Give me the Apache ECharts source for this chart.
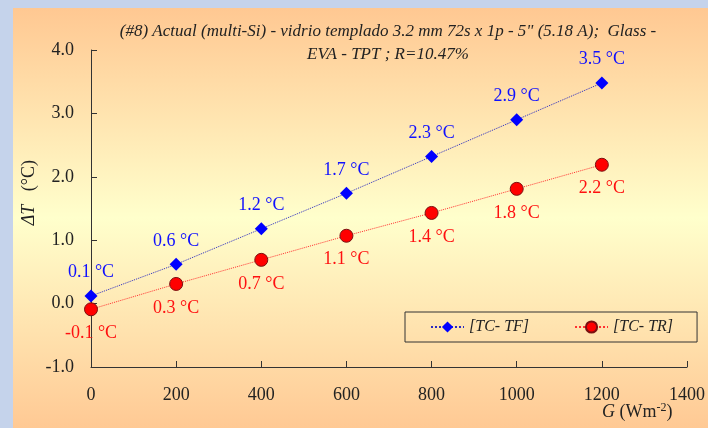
<!DOCTYPE html>
<html>
<head>
<meta charset="utf-8">
<script src="https://cdn.jsdelivr.net/npm/echarts@6/dist/echarts.min.js"></script>
<style>html,body{margin:0;padding:0;background:#C5D3EB;}#c{width:708px;height:428px;}</style>
</head>
<body>
<div id="c"></div>
<script>
const categories = [0, 200, 400, 600, 800, 1000, 1200];
const seriesTF = [0.12, 0.62, 1.18, 1.74, 2.32, 2.90, 3.48];
const seriesTR = [-0.09, 0.31, 0.69, 1.07, 1.43, 1.81, 2.19];
const seriesNames = ['[TC- TF]', '[TC- TR]'];
const titleLines = ['(#8) Actual (multi-Si) - vidrio templado 3.2 mm 72s x 1p - 5" (5.18 A);  Glass -', 'EVA - TPT ; R=10.47%'];

const FONT = '"Liberation Serif", "Times New Roman", serif';
const chart = echarts.init(document.getElementById('c'));
const pairs = a => categories.map((x, i) => [x, a[i]]);
const fmt = p => p.value[1].toFixed(1) + ' °C';

chart.setOption({
  backgroundColor: '#C5D3EB',
  animation: false,
  graphic: [
    { type: 'rect', z: -100, shape: { x: 13, y: 8, width: 695, height: 420 },
      style: { fill: new echarts.graphic.LinearGradient(0, 0, 0, 1, [
        { offset: 0, color: '#FFC892' }, { offset: 0.5, color: '#FFFFCC' }, { offset: 1, color: '#FFC994' }]) } },
    { type: 'text', left: 20, top: 160, rotation: Math.PI / 2,
      style: { text: '{i|ΔT}   (°C)', font: '18px ' + FONT, fill: '#222',
        rich: { i: { fontStyle: 'italic', fontSize: 18, fontFamily: FONT, color: '#222' } } } },
    { type: 'text', left: 602, top: 402,
      style: { text: '{i|G} (Wm{s|-2})', font: '18px ' + FONT, fill: '#222',
        rich: { i: { fontStyle: 'italic', fontSize: 18, fontFamily: FONT, color: '#222' },
                s: { fontSize: 12, fontFamily: FONT, color: '#222', verticalAlign: 'top', padding: [0, 0, 9, 0] } } } }
  ],
  title: {
    text: titleLines.join('\n'),
    left: 383, top: 15, textAlign: 'center',
    textStyle: { fontFamily: FONT, fontStyle: 'italic', fontWeight: 'normal', fontSize: 17, color: '#222', lineHeight: 23 }
  },
  legend: {
    left: 405, top: 312,
    padding: [7, 24, 7, 25],
    borderColor: '#333', borderWidth: 1,
    itemWidth: 33, itemHeight: 14, itemGap: 45,
    textStyle: { fontFamily: FONT, fontStyle: 'italic', fontSize: 16, color: '#222' },
    data: seriesNames
  },
  grid: { left: 91, right: 15, top: 50, bottom: 61, containLabel: false },
  xAxis: {
    type: 'value', min: 0, max: 1400, interval: 200,
    axisLine: { show: true, onZero: false, lineStyle: { color: '#333' } },
    axisTick: { show: true, inside: true, length: 6, lineStyle: { color: '#333' } },
    axisLabel: { margin: 19, fontFamily: FONT, fontSize: 18, color: '#222', formatter: v => String(v) },
    splitLine: { show: false }
  },
  yAxis: {
    type: 'value', min: -1, max: 4, interval: 1,
    axisLine: { show: true, onZero: false, lineStyle: { color: '#333' } },
    axisTick: { show: true, inside: true, length: 6, lineStyle: { color: '#333' } },
    axisLabel: { margin: 17, fontFamily: FONT, fontSize: 18, color: '#222', formatter: v => v.toFixed(1) },
    splitLine: { show: false }
  },
  series: [
    { name: seriesNames[0], type: 'line', data: pairs(seriesTF),
      symbol: 'diamond', symbolSize: 13,
      itemStyle: { color: '#0000FF' },
      lineStyle: { type: 'dotted', width: 1, color: '#2B2BC0' },
      label: { show: true, position: 'top', distance: 8, formatter: fmt,
        fontFamily: FONT, fontSize: 18, color: '#1010FF' } },
    { name: seriesNames[1], type: 'line', data: pairs(seriesTR),
      symbol: 'circle', symbolSize: 13,
      itemStyle: { color: '#FF0000', borderColor: '#7A1010', borderWidth: 1 },
      lineStyle: { type: 'dotted', width: 1, color: '#FF3030' },
      label: { show: true, position: 'bottom', distance: 8, formatter: fmt,
        fontFamily: FONT, fontSize: 18, color: '#FF1010' } }
  ]
});
</script>
</body>
</html>
